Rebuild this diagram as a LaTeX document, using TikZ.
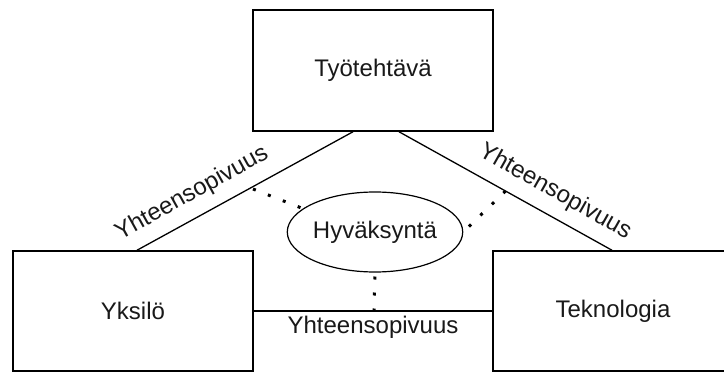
\documentclass[tikz,border=0pt]{standalone}
\usepackage{fontspec}
\setmainfont{Liberation Sans}
\usetikzlibrary{shapes.geometric}
\begin{document}
\begin{tikzpicture}[x=1pt,y=-1pt,
  every node/.style={font=\fontsize{24}{28}\selectfont, text=black!90},
  boxnode/.style={draw, line width=1.5pt, minimum width=240pt, minimum height=120pt, inner sep=0pt},
  ellnode/.style={draw, ellipse, line width=1.2pt, minimum width=140pt, minimum height=80pt, inner sep=0pt},
  conn/.style={line width=1.3pt},
  dotconn/.style={line width=3pt, dash pattern=on 3pt off 13pt},
  lbl/.style={inner sep=0pt}
]
\clip (0,0) rectangle (724,372);
\fill[white] (0,0) rectangle (724,372);
\node[boxnode, minimum height=121pt] (tt) at (373,70.5) {Työtehtävä};
\node[boxnode] (yk) at (133,311) {Yksilö};
\node[boxnode] (tk) at (613,311) {Teknologia};
\node[ellnode] (hy) at (375,232) {Hyväksyntä};
\coordinate (ml) at (253,189);
\coordinate (mr) at (505.5,191);
\coordinate (mb) at (374,311.5);
\draw[conn] ([xshift=-20pt]tt.south) -- ([xshift=4pt]yk.north);
\draw[conn] ([xshift=26pt]tt.south) -- ([xshift=-1pt]tk.north);
\draw[conn] (yk.east) -- (tk.west);
\node[lbl, rotate=29.05] (l1) at (192,193.5) {Yhteensopivuus};
\node[lbl, rotate=-29.4] (l2) at (555,192) {Yhteensopivuus};
\node[lbl] (l3) at (373,327) {Yhteensopivuus};
\draw[dotconn] (ml) -- (hy.162);
\draw[dotconn] (mr) -- (hy.0);
\draw[dotconn] (mb) -- (hy.south);
\end{tikzpicture}
\end{document}
